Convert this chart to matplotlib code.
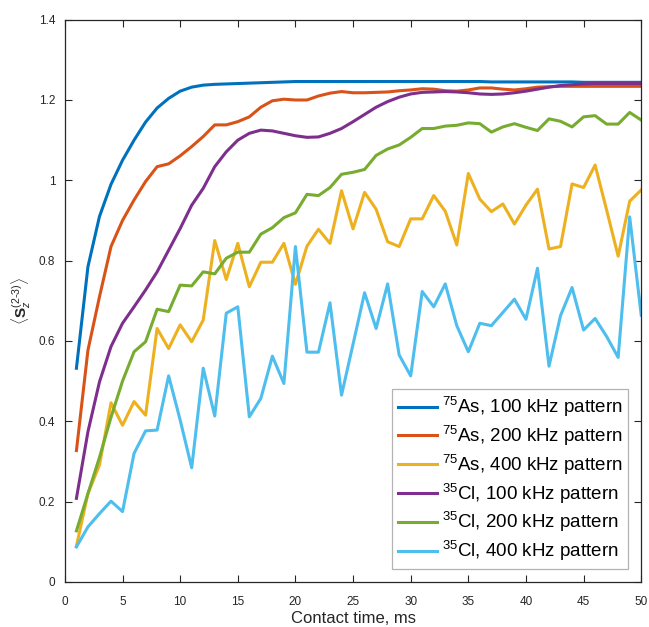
import numpy as np
import matplotlib
matplotlib.use('Agg')
from matplotlib import pyplot as plt
from matplotlib.ticker import FormatStrFormatter

plt.rcParams['font.family'] = ['Liberation Sans', 'DejaVu Sans']
plt.rcParams['mathtext.fontset'] = 'custom'
plt.rcParams['mathtext.rm'] = 'Liberation Sans'
plt.rcParams['mathtext.bf'] = 'Liberation Sans:bold'
plt.rcParams['mathtext.it'] = 'Liberation Sans:italic'

# contact time, ms
contact_time = list(range(1, 51))

as_100 = [0.532, 0.785, 0.91, 0.99, 1.05, 1.10, 1.145, 1.18, 1.204, 1.222,
          1.232, 1.237, 1.239, 1.240, 1.241, 1.242, 1.243, 1.244, 1.245, 1.246,
          1.246, 1.246, 1.246, 1.246, 1.246, 1.246, 1.246, 1.246, 1.246, 1.246,
          1.246, 1.246, 1.246, 1.246, 1.246, 1.246, 1.245, 1.245, 1.245, 1.245,
          1.245, 1.245, 1.245, 1.245, 1.244, 1.244, 1.244, 1.244, 1.244, 1.244]

as_200 = [0.327, 0.577, 0.71, 0.835, 0.90, 0.951, 0.997, 1.034, 1.041, 1.061,
          1.084, 1.109, 1.138, 1.138, 1.146, 1.158, 1.182, 1.198, 1.202, 1.200,
          1.200, 1.210, 1.217, 1.221, 1.218, 1.218, 1.219, 1.220, 1.223, 1.225,
          1.228, 1.227, 1.223, 1.222, 1.225, 1.230, 1.230, 1.227, 1.225, 1.228,
          1.232, 1.233, 1.234, 1.234, 1.234, 1.234, 1.234, 1.234, 1.234, 1.234]

as_400 = [0.089, 0.22, 0.291, 0.446, 0.39, 0.449, 0.415, 0.631, 0.581, 0.64,
          0.598, 0.652, 0.85, 0.753, 0.843, 0.735, 0.796, 0.796, 0.843, 0.741,
          0.836, 0.878, 0.843, 0.974, 0.879, 0.970, 0.928, 0.847, 0.835, 0.904,
          0.904, 0.962, 0.923, 0.839, 1.017, 0.953, 0.922, 0.941, 0.891, 0.938,
          0.978, 0.829, 0.835, 0.991, 0.982, 1.038, 0.926, 0.811, 0.948, 0.976]

cl_100 = [0.208, 0.374, 0.498, 0.586, 0.644, 0.685, 0.727, 0.772, 0.826, 0.880,
          0.938, 0.98, 1.034, 1.071, 1.10, 1.117, 1.125, 1.123, 1.117, 1.111,
          1.107, 1.108, 1.117, 1.129, 1.146, 1.164, 1.182, 1.196, 1.207, 1.215,
          1.219, 1.220, 1.221, 1.220, 1.218, 1.215, 1.214, 1.215, 1.218, 1.222,
          1.227, 1.232, 1.236, 1.238, 1.240, 1.241, 1.241, 1.241, 1.241, 1.241]

cl_200 = [0.127, 0.22, 0.31, 0.41, 0.50, 0.573, 0.598, 0.679, 0.673, 0.739,
          0.737, 0.772, 0.767, 0.806, 0.821, 0.821, 0.866, 0.882, 0.907, 0.919,
          0.965, 0.962, 0.982, 1.015, 1.02, 1.027, 1.062, 1.078, 1.088, 1.107,
          1.129, 1.129, 1.135, 1.137, 1.143, 1.141, 1.12, 1.133, 1.141, 1.132,
          1.124, 1.153, 1.147, 1.133, 1.158, 1.161, 1.14, 1.14, 1.169, 1.150]

cl_400 = [0.087, 0.137, 0.17, 0.201, 0.175, 0.32, 0.376, 0.378, 0.513, 0.403,
          0.284, 0.532, 0.413, 0.669, 0.685, 0.411, 0.457, 0.562, 0.494, 0.835,
          0.572, 0.572, 0.695, 0.465, 0.592, 0.72, 0.631, 0.742, 0.565, 0.513,
          0.723, 0.685, 0.742, 0.638, 0.573, 0.644, 0.638, 0.671, 0.704, 0.654,
          0.781, 0.537, 0.663, 0.733, 0.627, 0.656, 0.611, 0.559, 0.909, 0.664]

series = [as_100, as_200, as_400, cl_100, cl_200, cl_400]
labels = [r'$^{75}$As, 100 kHz pattern', r'$^{75}$As, 200 kHz pattern',
          r'$^{75}$As, 400 kHz pattern', r'$^{35}$Cl, 100 kHz pattern',
          r'$^{35}$Cl, 200 kHz pattern', r'$^{35}$Cl, 400 kHz pattern']
colors = ['#0072BD', '#D95319', '#EDB120', '#7E2F8E', '#77AC30', '#4DBEEE']

fig = plt.figure(figsize=(6.49, 6.27), dpi=100)
ax = fig.add_axes([0.1, 0.072, 0.888, 0.8966])

for y, lab, c in zip(series, labels, colors):
    ax.plot(contact_time, y, color=c, lw=2.2, label=lab)

ax.set_xlim(0, 50)
ax.set_ylim(0, 1.4)
ax.set_xticks(np.arange(0, 51, 5))
ax.set_yticks(np.arange(0, 1.41, 0.2))
ax.yaxis.set_major_formatter(FormatStrFormatter('%g'))
ax.tick_params(direction='in', top=True, right=True, length=5,
               labelsize=8.5, color='#262626', labelcolor='#262626')
ax.tick_params(axis='x', pad=10)
ax.tick_params(axis='y', pad=7)
for sp in ax.spines.values():
    sp.set_color('#262626')
    sp.set_linewidth(0.9)

ax.set_xlabel('Contact time, ms', fontsize=12, color='#262626')
ax.xaxis.set_label_coords(0.5, -0.052)
ax.set_ylabel(r'$\langle\mathbf{S}_z^{(2\text{-}3)}\rangle$', fontsize=11,
              color='#262626')
ax.yaxis.set_label_coords(-0.055, 0.5)

leg = ax.legend(loc='lower right', fontsize=13.5, frameon=True, fancybox=False,
                edgecolor='#A0A0A0', handlelength=2.08, borderaxespad=0.7,
                borderpad=0.3, labelspacing=0.25, handletextpad=0.27)
leg.get_frame().set_linewidth(0.9)

plt.savefig('out.png', dpi=100)
